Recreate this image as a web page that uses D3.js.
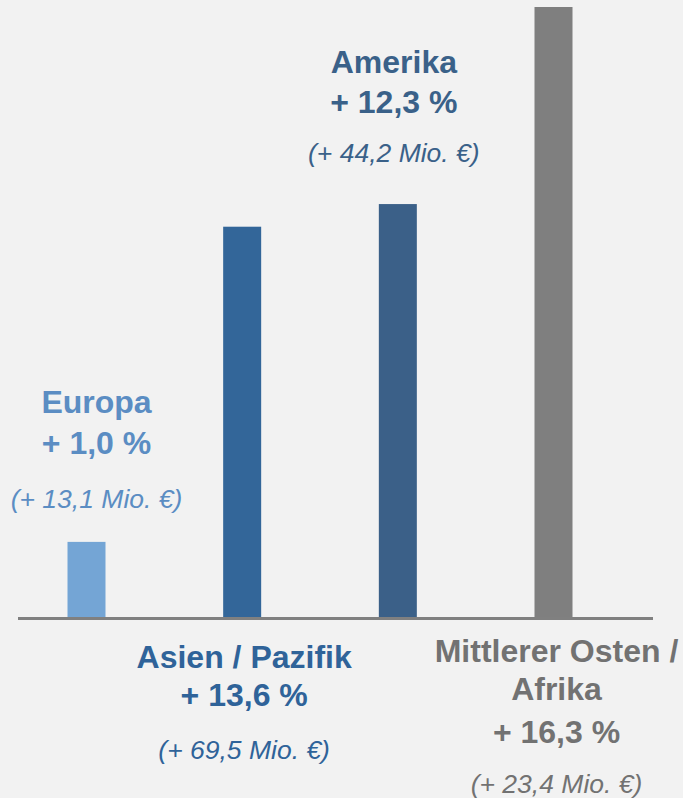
<!DOCTYPE html>
<html>
<head>
<meta charset="utf-8">
<script src="https://cdn.jsdelivr.net/npm/d3@7"></script>
<style>
  html, body { margin: 0; padding: 0; background: #f2f2f2; }
  svg { display: block; }
</style>
</head>
<body>
<div id="chart"></div>
<script>
// data: regions, bar index (max = 100), growth labels
var regions = ["Europa", "Asien / Pazifik", "Amerika", "Mittlerer Osten / Afrika"];
var values = [12.6, 64.1, 67.8, 100];
var growth = ["+ 1,0 %", "+ 13,6 %", "+ 12,3 %", "+ 16,3 %"];
var amounts = ["(+ 13,1 Mio. €)", "(+ 69,5 Mio. €)", "(+ 44,2 Mio. €)", "(+ 23,4 Mio. €)"];
var nameLines = [["Europa"], ["Asien / Pazifik"], ["Amerika"], ["Mittlerer Osten /", "Afrika"]];

var barColors = ["#74a5d5", "#336699", "#3b6088", "#7f7f7f"];
var textColors = ["#5b8dc3", "#2f6399", "#3a6189", "#727272"];

var width = 683, height = 798;
var baseY = 619;

var svg = d3.select("#chart")
    .append("svg")
    .attr("width", width)
    .attr("height", height);

svg.append("rect").attr("width", width).attr("height", height).attr("fill", "#f2f2f2");

var x = d3.scalePoint()
    .domain(regions)
    .range([86.5, 553.5]);

var y = d3.scaleLinear()
    .domain([0, 100])
    .range([baseY, 7]);

var barW = 38;

// bars
svg.selectAll(".bar")
    .data(regions)
    .enter().append("rect")
    .attr("class", "bar")
    .attr("x", function (d) { return x(d) - barW / 2; })
    .attr("y", function (d, i) { return y(values[i]); })
    .attr("width", barW)
    .attr("height", function (d, i) { return y(0) - y(values[i]); })
    .attr("fill", function (d, i) { return barColors[i]; });

// baseline
svg.append("line")
    .attr("x1", 18).attr("x2", 653)
    .attr("y1", baseY - 0.5).attr("y2", baseY - 0.5)
    .attr("stroke", "#808080")
    .attr("stroke-width", 3);

// label layout: center x offset from bar, baselines of each line
var labelPos = [
    {dx: 10, ys: [413, 454], yi: 508},
    {dx: 2, ys: [668, 706], yi: 759},
    {dx: -4, ys: [73, 113], yi: 162},
    {dx: 3, ys: [662, 700, 743], yi: 793}
];

regions.forEach(function (r, i) {
    var cx = x(r) + labelPos[i].dx;
    var lines = nameLines[i].concat([growth[i]]);
    lines.forEach(function (t, j) {
        svg.append("text")
            .attr("x", cx)
            .attr("y", labelPos[i].ys[j])
            .attr("text-anchor", "middle")
            .style("font-family", "'Liberation Sans', Arial, sans-serif")
            .style("font-weight", "bold")
            .style("font-size", "32px")
            .style("fill", textColors[i])
            .text(t);
    });
    svg.append("text")
        .attr("x", cx)
        .attr("y", labelPos[i].yi)
        .attr("text-anchor", "middle")
        .style("font-family", "'Liberation Sans', Arial, sans-serif")
        .style("font-style", "italic")
        .style("font-size", "26.5px")
        .style("fill", textColors[i])
        .text(amounts[i]);
});
</script>
</body>
</html>
